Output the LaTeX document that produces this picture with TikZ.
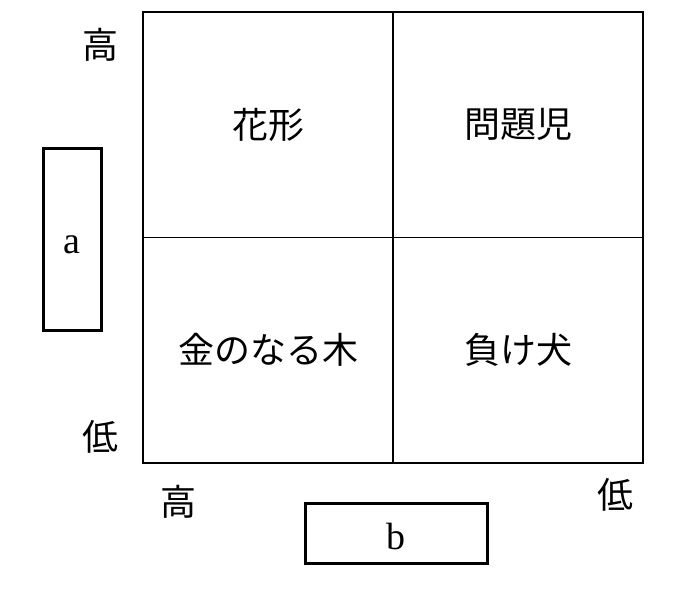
\documentclass[tikz,border=0pt]{standalone}
\usepackage{fontspec}
\setmainfont{Liberation Serif}
\newfontfamily\jpfont{Noto Sans CJK JP}
\usetikzlibrary{positioning}

\begin{document}
\begin{tikzpicture}[
    x=1pt, y=-1pt,
    cell/.style={draw, line width=1.8pt, minimum width=250pt, minimum height=225.5pt,
                 inner sep=0pt, font=\jpfont\fontsize{36}{42}\selectfont},
    answerbox/.style={draw, line width=3pt, inner sep=0pt},
    boxletter/.style={font=\fontsize{38}{44}\selectfont, inner sep=0pt},
    scalelabel/.style={inner sep=0pt, font=\jpfont\fontsize{36}{42}\selectfont}
]
\useasboundingbox (0,0) rectangle (700,600);
% matrix cells
\node[cell] (star)  at (268,124.75) {花形};
\node[cell] (quest) at (518,124.75) {問題児};
\node[cell] (cow)   at (268,350.25) {金のなる木};
\node[cell] (dog)   at (518,350.25) {負け犬};
% blanks
\node[answerbox, minimum width=58pt, minimum height=182pt,
      label={[boxletter, yshift=-6pt]center:a}] (a) at (72,239) {};
\node[answerbox, minimum width=182pt, minimum height=60pt,
      label={[boxletter, yshift=-3pt]center:b}] (b) at (396,533) {};
% scale labels
\node[scalelabel] (yhigh) at (100,45)  {高};
\node[scalelabel] (ylow)  at (100,437) {低};
\node[scalelabel] (xhigh) at (178,502) {高};
\node[scalelabel] (xlow)  at (615,495) {低};
\end{tikzpicture}
\end{document}
